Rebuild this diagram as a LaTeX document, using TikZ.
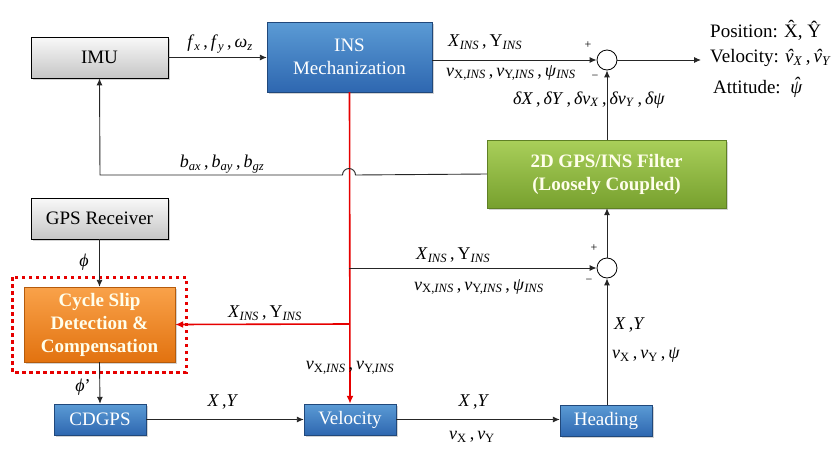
\documentclass[tikz,border=0pt]{standalone}
\usepackage{fontspec}
\setmainfont{Liberation Serif}
\usetikzlibrary{arrows.meta,shadows,calc}
\definecolor{bluetop}{HTML}{5B9BD5}
\definecolor{bluebot}{HTML}{2E67B0}
\definecolor{greentop}{HTML}{A9CF5A}
\definecolor{greenbot}{HTML}{77A02E}
\definecolor{orangetop}{HTML}{F9A24A}
\definecolor{orangebot}{HTML}{E2720F}
\definecolor{redline}{HTML}{E60000}
\newcommand\sbs[1]{\textsubscript{#1}}
\newcommand\ins{\sbs{\textit{INS}}}
\newcommand\hatted[1]{\^{#1}}
\newcommand\myhat[3][0pt]{{\setbox0\hbox{#3}\rlap{\hbox to\wd0{\hss\kern#2\raisebox{#1}{\char"02C6}\hss}}\box0}}
\tikzset{
  box/.style={rectangle, align=center, inner sep=0pt,
    font=\fontsize{19}{23}\selectfont,
    drop shadow={shadow xshift=2pt, shadow yshift=-2pt, opacity=0.35}},
  graybox/.style={box, draw=black, line width=0.8pt, top color=gray!5, bottom color=gray!45, text=black},
  bluebox/.style={box, draw=bluebot!70!black, line width=0.4pt, top color=bluetop, bottom color=bluebot, text=white},
  greenbox/.style={box, draw=greenbot!80!black, line width=0.4pt, top color=greentop, bottom color=greenbot, text=white!92!yellow, font=\fontsize{19}{23}\selectfont\bfseries},
  orangebox/.style={box, draw=orangebot!80!black, line width=0.4pt, top color=orangetop, bottom color=orangebot, text=white!92!yellow, font=\fontsize{19}{23}\selectfont\bfseries},
  sumnode/.style={circle, draw=black, line width=0.8pt, minimum size=20pt, inner sep=0pt, fill=white},
  conn/.style={draw=black!85, line width=0.9pt, -{Latex[length=7pt,width=6pt]}},
  redconn/.style={draw=redline, line width=1.6pt, -{Latex[length=8pt,width=7pt]}},
  lbl/.style={inner sep=0pt, font=\fontsize{18}{20}\selectfont},
  sgn/.style={inner sep=0pt, font=\fontsize{12}{14}\selectfont},
  outlbl/.style={inner sep=0pt, anchor=west, font=\fontsize{19}{21}\selectfont},
}
\begin{document}
\begin{tikzpicture}[x=1pt, y=-1pt]
\useasboundingbox (0,0) rectangle (838,455);
% boxes
\node[graybox, minimum width=137pt, minimum height=41pt] (imu) at (99.5,57.5) {IMU};
\node[bluebox, minimum width=165pt, minimum height=70pt] (ins) at (349.5,57) {INS\\Mechanization};
\node[greenbox, minimum width=239pt, minimum height=68pt] (filt) at (606.5,174) {2D GPS/INS Filter\\(Loosely Coupled)};
\node[graybox, minimum width=137pt, minimum height=41pt] (gps) at (99.5,218.5) {GPS Receiver};
\node[orangebox, minimum width=151pt, minimum height=75pt] (cs) at (99.5,324.5) {Cycle Slip\\Detection \&\\Compensation};
\draw[redline, line width=3pt, dash pattern=on 3.5pt off 3.5pt] (12,277) rectangle (186,372);
\node[bluebox, minimum width=92pt, minimum height=31pt] (cdgps) at (100,419.5) {CDGPS};
\node[bluebox, minimum width=92pt, minimum height=31pt] (vel) at (350,419.5) {Velocity};
\node[bluebox, minimum width=92pt, minimum height=31pt] (head) at (606,420.5) {Heading};
\node[sumnode] (sum1) at (607,60) {};
\node[sumnode] (sum2) at (607,268) {};
% coordinates
\coordinate (br1) at (349,268);
\coordinate (br2) at (349,324);
\coordinate (out) at (701,60);
% red lines
\draw[redconn] (ins.south) -- (vel.north);
\draw[redconn] (br2) -- (cs.east);
% connectors
\draw[conn] (imu.east) -- (ins.west |- imu.east);
\draw[conn] (ins.east |- sum1) -- (sum1.west);
\draw[conn] (sum1.east) -- (out);
\draw[conn] (filt.north -| sum1) -- (sum1.south);
\draw[conn] (filt.west) -- (355.5,175) arc[start angle=0, end angle=-180, radius=6.5] -- (100,175) -- (imu.south);
\draw[conn] (gps.south) -- (cs.north);
\draw[conn] (cs.south) -- (cdgps.north);
\draw[conn] (cdgps.east) -- (vel.west);
\draw[conn] (vel.east) -- (head.west |- vel.east);
\draw[conn] (head.north -| sum2) -- (sum2.south);
\draw[conn] (br1) -- (sum2.west);
\draw[conn] (sum2.north) -- (filt.south -| sum2);
% labels
\node[lbl] (l1) at (220,44) {\textit{f}\sbs{\textit{x}}\,,\,\textit{f}\sbs{\textit{y}}\,,\,\textit{ω}\sbs{\textit{z}}};
\node[lbl] (l2) at (222,164) {\textit{b}\sbs{\textit{ax}}\,,\,\textit{b}\sbs{\textit{ay}}\,,\,\textit{b}\sbs{\textit{gz}}};
\node[lbl, anchor=west] (l3) at (448,42) {\textit{X}\ins\,,\,Y\ins};
\node[lbl, anchor=west] (l4) at (446,73) {\textit{v}\sbs{X,\textit{INS}}\,,\,\textit{v}\sbs{Y,\textit{INS}}\,,\,\textit{ψ}\ins};
\node[lbl] (l5) at (589,100) {\textit{δX}\,,\,\textit{δY}\,,\,\textit{δv}\sbs{\textit{X}}\,,\,\textit{δv}\sbs{\textit{Y}}\,,\,\textit{δψ}};
\node[sgn] at (588,45) {+};
\node[sgn] at (595,77) {\textminus};
\node[sgn] at (594,248) {+};
\node[sgn] at (589,281) {\textminus};
\node[outlbl] (o1) at (710,30) {Position: \hatted{X}, \hatted{Y}};
\node[outlbl] (o2) at (710,58) {Velocity: \textit{\myhat{1pt}{v}}\sbs{\textit{X}}\,,\,\textit{\myhat{1pt}{v}}\sbs{\textit{Y}}};
\node[outlbl] (o3) at (713,87) {Attitude:\ \ \textit{\myhat[3pt]{1pt}{ψ}}};
\node[lbl, anchor=west] (l6) at (416,255) {\textit{X}\ins\,,\,Y\ins};
\node[lbl, anchor=west] (l7) at (414,287) {\textit{v}\sbs{X,\textit{INS}}\,,\,\textit{v}\sbs{Y,\textit{INS}}\,,\,\textit{ψ}\ins};
\node[lbl, anchor=west] (l8) at (614,325) {\textit{X}\,,\textit{Y}};
\node[lbl, anchor=west] (l9) at (612,355) {\textit{v}\sbs{X}\,,\,\textit{v}\sbs{Y}\,,\,\textit{ψ}};
\node[lbl] (l10) at (474,402) {\textit{X}\,,\textit{Y}};
\node[lbl] (l11) at (472,437) {\textit{v}\sbs{X}\,,\,\textit{v}\sbs{Y}};
\node[lbl] (l12) at (223,402) {\textit{X}\,,\textit{Y}};
\node[lbl] (l13) at (265,313) {\textit{X}\ins\,,\,Y\ins};
\node[lbl] (l14) at (350,368) {\textit{v}\sbs{X,\textit{INS}}\,,\,\textit{v}\sbs{Y,\textit{INS}}};
\node[lbl] (l15) at (84,262) {\textit{ϕ}};
\node[lbl] (l16) at (83,387) {\textit{ϕ}'};
\end{tikzpicture}
\end{document}
